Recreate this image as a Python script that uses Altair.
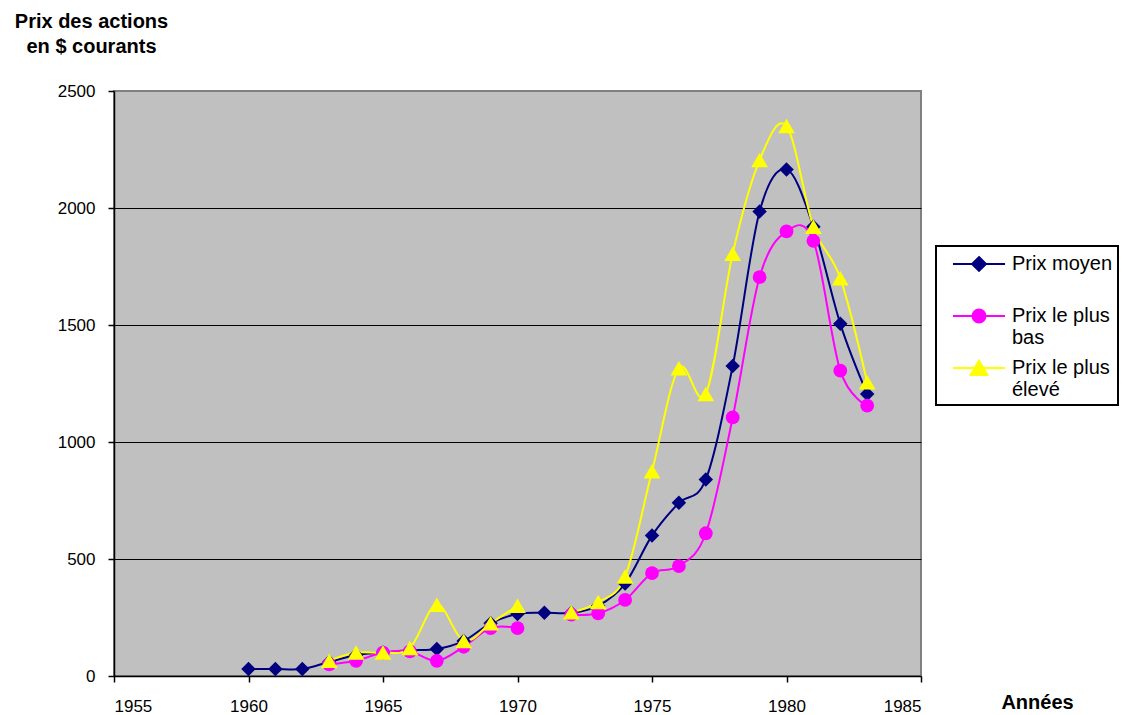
import altair as alt
import pandas as pd

# ---------------- data ----------------
annees = list(range(1960, 1984))
prix_moyen = [30, 30, 30, 60, 90, 100, 110, 115, 150, 225, 265, 270,
              270, 300, 395, 600, 740, 840, 1325, 1985, 2165, 1920, 1505, 1205]
prix_bas = [None, None, None, 50, 65, 100, 105, 65, 125, 205, 205, None,
            262, 268, 325, 440, 470, 610, 1105, 1705, 1900, 1860, 1305, 1155]
prix_haut = [None, None, None, 65, 100, 100, 120, 305, 150, 225, 300, None,
             272, 316, 425, 875, 1315, 1205, 1805, 2205, 2350, 1920, 1700, 1255]

# legend labels; "|" marks a line break in the legend
series = ["Prix moyen|", "Prix le plus|bas", "Prix le plus|élevé"]
x_ticks = [1955, 1960, 1965, 1970, 1975, 1980, 1985]
y_ticks = [0, 500, 1000, 1500, 2000, 2500]

# ---------------- styles ----------------
FONT = "Liberation Sans, Arial, sans-serif"
colors = ["#000080", "#FF00FF", "#FFFF00"]
point_shapes = ["diamond", "circle", "triangle-up"]
point_sizes = [210, 190, 280]
# legend glyphs: a line with the marker on it (unit = 12 px)
legend_paths = [
    "M-2.17,0H2.17M0,-0.58L0.58,0L0,0.58L-0.58,0Z",
    "M-2.17,0H2.17M-0.54,0A0.54,0.54 0 1,0 0.54,0A0.54,0.54 0 1,0 -0.54,0Z",
    "M-2.17,0H2.17M0,-0.6L0.7,0.58L-0.7,0.58Z",
]

rows = []
for name, vals in zip(series, [prix_moyen, prix_bas, prix_haut]):
    seg = 0
    for yr, v in zip(annees, vals):
        if v is None:
            seg += 1
            continue
        rows.append({"annee": yr, "prix": v, "serie": name, "segment": seg})
df = pd.DataFrame(rows)

x_enc = alt.X(
    "annee:Q",
    scale=alt.Scale(domain=[x_ticks[0], x_ticks[-1]], nice=False, zero=False),
    axis=alt.Axis(
        values=x_ticks, format="d", grid=False, tickSize=6, labelPadding=16,
        title="Années", titleAngle=0, titleX=923, titleY=32,
        titleAlign="center", titleBaseline="alphabetic",
    ),
)
y_enc = alt.Y(
    "prix:Q",
    scale=alt.Scale(domain=[y_ticks[0], y_ticks[-1]], nice=False),
    axis=alt.Axis(
        values=y_ticks, format="d", grid=True, tickSize=6, labelPadding=13,
        gridColor={"condition": {"test": "datum.value >= 2500 || datum.value <= 0",
                                 "value": "transparent"}, "value": "black"},
        title=["Prix des actions", "en $ courants"], titleAngle=0,
        titleX=-23, titleY=-64, titleAlign="center", titleBaseline="alphabetic",
        titleLineHeight=25,
    ),
)

base = alt.Chart(df).encode(x=x_enc, y=y_enc)

line_layers = [
    base.transform_filter(alt.datum.serie == s)
    .mark_line(interpolate="cardinal", strokeWidth=2, color=c)
    .encode(detail="segment:N")
    for s, c in zip(series, colors)
]
point_layers = [
    base.transform_filter(alt.datum.serie == s)
    .mark_point(shape=shp, filled=True, size=sz, opacity=1, color=c)
    for s, c, shp, sz in zip(series, colors, point_shapes, point_sizes)
]

leg = alt.Legend(
    title=None, orient="none", legendX=822, legendY=155, direction="vertical",
    labelExpr="split(datum.label, '|')", labelFontSize=20, labelFont=FONT,
    labelColor="black", labelOffset=20, labelBaseline="middle", labelLimit=220,
    symbolSize=576, symbolStrokeWidth=2, symbolOffset=25,
    padding=5, rowPadding=7, strokeColor="black", fillColor="white",
)
legend_layer = (
    base.transform_filter("false")
    .mark_point(filled=True, size=576, opacity=1, strokeWidth=2)
    .encode(
        shape=alt.Shape("serie:N", scale=alt.Scale(domain=series, range=legend_paths), legend=leg),
        fill=alt.Fill("serie:N", scale=alt.Scale(domain=series, range=colors), legend=leg),
        stroke=alt.Stroke("serie:N", scale=alt.Scale(domain=series, range=colors), legend=leg),
    )
)

chart = (
    alt.layer(*line_layers, *point_layers, legend_layer)
    .properties(
        width=807, height=585,
        autosize=alt.AutoSizeParams(type="none"),
        padding={"left": 106, "top": 83, "right": 201, "bottom": 40},
        background="white",
    )
    .configure_view(fill="#C0C0C0", stroke="#808080", strokeWidth=2)
    .configure_axis(
        labelFont=FONT, labelFontSize=17, labelColor="black",
        titleFont=FONT, titleFontSize=20, titleFontWeight="bold", titleColor="black",
        domainColor="black", domainWidth=1.5, tickColor="black", tickWidth=1.5,
        gridWidth=1,
    )
    .configure_legend(strokeWidth=2)
)

chart.save("out.html", embed_options={"renderer": "svg", "actions": False})
